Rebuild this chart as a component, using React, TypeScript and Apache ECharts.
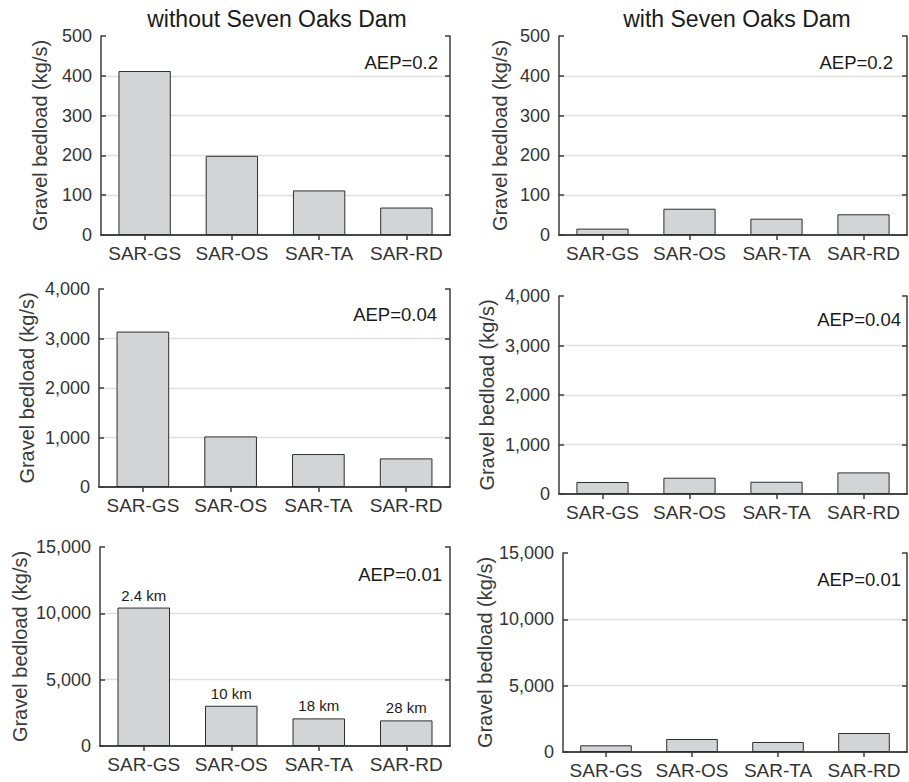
import React, { useEffect, useRef } from 'react';
import * as echarts from 'echarts';

const categories = ['SAR-GS', 'SAR-OS', 'SAR-TA', 'SAR-RD'];
const withoutDamAep02 = [412, 199, 112, 69];
const withDamAep02 = [16, 66, 41, 52];
const withoutDamAep004 = [3140, 1022, 666, 578];
const withDamAep004 = [242, 329, 248, 436];
const withoutDamAep001 = [10435, 3035, 2082, 1931];
const withDamAep001 = [503, 980, 754, 1432];
const distanceLabels = ['2.4 km', '10 km', '18 km', '28 km'];
const yMaxes = [500, 4000, 15000];
const yIntervals = [100, 1000, 5000];
const aepLabels = ['AEP=0.2', 'AEP=0.04', 'AEP=0.01'];
const columnTitles = ['without Seven Oaks Dam', 'with Seven Oaks Dam'];
const yAxisName = 'Gravel bedload (kg/s)';

const panelValues = [
  withoutDamAep02, withDamAep02,
  withoutDamAep004, withDamAep004,
  withoutDamAep001, withDamAep001,
];

const FONT = '"Liberation Sans", Arial, Helvetica, sans-serif';
const AXIS_COLOR = '#3c3c3c';
const TEXT_COLOR = '#333333';

const grids = [
  { left: 101, top: 36, width: 349, height: 199 },
  { left: 559, top: 36, width: 348, height: 199 },
  { left: 99, top: 289, width: 351, height: 198 },
  { left: 559, top: 296, width: 348, height: 198 },
  { left: 100, top: 547, width: 350, height: 199 },
  { left: 563, top: 553, width: 344, height: 199 },
];
const nameGaps = [51, 49, 62, 62, 70, 68];
const aepPos = [[438, 62], [893, 62], [437, 314], [901, 319], [442, 574], [901, 579]];
const titlePos = [[277, 19], [737, 19]];

const fmt = (v: number) => String(v).replace(/\B(?=(\d{3})+(?!\d))/g, ',');

export default function App() {
  const ref = useRef<HTMLDivElement>(null);
  useEffect(() => {
    if (!ref.current) return;
    const chart = echarts.init(ref.current, null, { renderer: 'svg' });
    const xAxis: any[] = [];
    const yAxis: any[] = [];
    const series: any[] = [];
    const lineStyle = { color: AXIS_COLOR, width: 1.5 };
    grids.forEach((g, i) => {
      const row = Math.floor(i / 2);
      xAxis.push({
        type: 'category', gridIndex: i, data: categories, position: 'bottom',
        axisLine: { show: true, lineStyle },
        axisTick: { show: true, inside: true, length: 5, alignWithLabel: true, lineStyle },
        axisLabel: { interval: 0, color: TEXT_COLOR, fontSize: 19, fontFamily: FONT, margin: 9 },
      });
      xAxis.push({
        type: 'category', gridIndex: i, data: categories, position: 'top',
        axisLine: { show: true, lineStyle },
        axisTick: { show: true, inside: true, length: 5, alignWithLabel: true, interval: 0, lineStyle },
        axisLabel: { show: false },
      });
      yAxis.push({
        type: 'value', gridIndex: i, position: 'left', min: 0, max: yMaxes[row], interval: yIntervals[row],
        name: yAxisName, nameLocation: 'middle', nameRotate: 90, nameGap: nameGaps[i],
        nameTextStyle: { color: '#3a3a3a', fontSize: 20, fontFamily: FONT },
        axisLine: { show: true, lineStyle },
        axisTick: { show: true, inside: true, length: 5, lineStyle },
        axisLabel: { color: TEXT_COLOR, fontSize: 18, fontFamily: FONT, margin: 9, formatter: (v: number) => fmt(v) },
        splitLine: { show: true, showMinLine: false, showMaxLine: false, lineStyle: { color: '#dfdfdf', width: 1.3 } },
      });
      yAxis.push({
        type: 'value', gridIndex: i, position: 'right', min: 0, max: yMaxes[row], interval: yIntervals[row],
        axisLine: { show: true, lineStyle },
        axisTick: { show: true, inside: true, length: 5, lineStyle },
        axisLabel: { show: false },
        splitLine: { show: false },
      });
      series.push({
        type: 'bar', xAxisIndex: i * 2, yAxisIndex: i * 2, data: panelValues[i], barWidth: '60%',
        itemStyle: { color: '#d3d4d6', borderColor: '#2e2e2e', borderWidth: 1 },
        label: i === 4 ? {
          show: true, position: 'top', distance: 5, color: '#1a1a1a', fontSize: 15, fontFamily: FONT,
          formatter: (p: any) => distanceLabels[p.dataIndex],
        } : { show: false },
      });
    });
    const graphic: any[] = [];
    columnTitles.forEach((t, c) => {
      graphic.push({
        type: 'text', x: titlePos[c][0], y: titlePos[c][1],
        style: { text: t, fontSize: 23, fontFamily: FONT, fill: '#1a1a1a', align: 'center', verticalAlign: 'middle' },
      });
    });
    aepPos.forEach((p, i) => {
      graphic.push({
        type: 'text', x: p[0], y: p[1],
        style: { text: aepLabels[Math.floor(i / 2)], fontSize: 18.5, fontFamily: FONT, fill: '#1a1a1a', align: 'right', verticalAlign: 'middle' },
      });
    });
    chart.setOption({
      animation: false,
      backgroundColor: '#ffffff',
      grid: grids.map((g) => ({ ...g, containLabel: false })),
      xAxis, yAxis, series, graphic,
    });
    return () => chart.dispose();
  }, []);
  return <div ref={ref} style={{ position: 'fixed', left: 0, top: 0, width: 909, height: 782, background: '#fff' }} />;
}
